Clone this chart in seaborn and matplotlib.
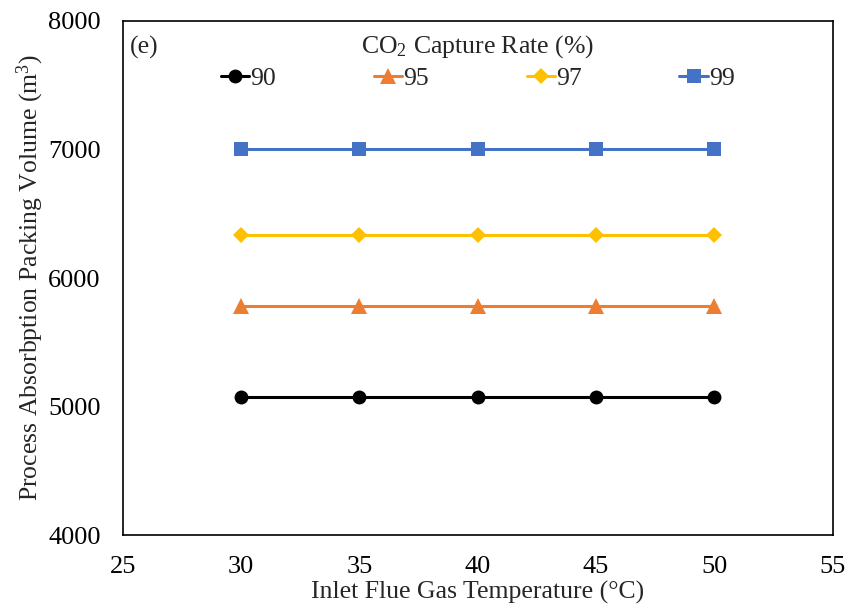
import numpy as np
import pandas as pd
import seaborn as sns
import matplotlib
matplotlib.use("Agg")
import matplotlib.pyplot as plt

# Inlet flue gas temperature (°C)
temperature = [30, 35, 40, 45, 50]
# Packing volume (m3) for each CO2 capture rate
vol_90 = [5075, 5075, 5075, 5075, 5075]
vol_95 = [5780, 5780, 5780, 5780, 5780]
vol_97 = [6335, 6335, 6335, 6335, 6335]
vol_99 = [7000, 7000, 7000, 7000, 7000]
capture_rates = ["90", "95", "97", "99"]

series = {"90": vol_90, "95": vol_95, "97": vol_97, "99": vol_99}
df = pd.DataFrame(
    [(t, v, r) for r in capture_rates for t, v in zip(temperature, series[r])],
    columns=["T", "V", "rate"],
)

sns.set_theme(style="white")
plt.rcParams["font.family"] = ["Liberation Serif", "DejaVu Serif"]
plt.rcParams["mathtext.fontset"] = "custom"
plt.rcParams["mathtext.rm"] = "Liberation Serif"
plt.rcParams["mathtext.it"] = "Liberation Serif:italic"

fig = plt.figure(figsize=(8.47, 6.08), dpi=100)
ax = fig.add_axes([0.1449, 0.12, 0.8383, 0.8455])

palette = {"90": "#000000", "95": "#ED7D31", "97": "#FFC000", "99": "#4472C4"}
markers = {"90": "o", "95": "^", "97": "D", "99": "s"}
sizes = {"90": 10, "95": 11, "97": 8, "99": 10.5}

for r in capture_rates:
    sub = df[df["rate"] == r]
    sns.lineplot(
        data=sub, x="T", y="V", ax=ax, color=palette[r], marker=markers[r],
        markersize=sizes[r], markeredgewidth=0, linewidth=2.2, label=r,
    )

ax.set_xlim(25, 55)
ax.set_ylim(4000, 8000)
ax.set_xticks(np.arange(25, 56, 5))
ax.set_yticks(np.arange(4000, 8001, 1000))
ax.tick_params(axis="both", direction="in", length=6, width=0.8, color="#555555",
               labelsize=19, labelcolor="black")
ax.tick_params(axis="x", pad=15)
ax.tick_params(axis="y", pad=16)
for s in ax.spines.values():
    s.set_color("black")
    s.set_linewidth(1.2)

ax.set_xlabel("Inlet Flue Gas Temperature (°C)", fontsize=18.5, labelpad=2)
ax.set_ylabel("Process Absorbption Packing Volume (m$^3$)", fontsize=18.5, labelpad=1)

ax.text(0.01, 0.97, "(e)", transform=ax.transAxes, fontsize=18.5, va="top", ha="left")

leg = ax.legend(
    title="CO$_2$ Capture Rate (%)", loc="upper center", bbox_to_anchor=(0.5, 1.006),
    ncol=4, frameon=False, fontsize=18.5, title_fontsize=18.5, handlelength=1.1,
    handletextpad=0.05, columnspacing=3.8, borderaxespad=0.2, labelspacing=0.27,
)

fig.savefig("out.png", dpi=100)
